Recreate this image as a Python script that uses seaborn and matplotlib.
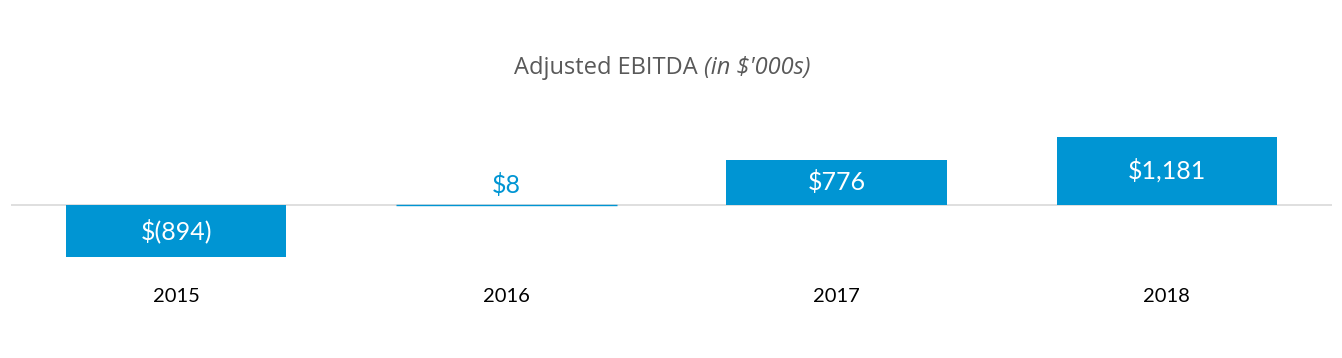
import matplotlib
matplotlib.use("Agg")
import matplotlib.pyplot as plt
import seaborn as sns
import pandas as pd

years = ["2015", "2016", "2017", "2018"]
ebitda = [-894, 8, 776, 1181]
value_labels = ["$(894)", "$8", "$776", "$1,181"]

BLUE = "#0095D3"

sns.set_theme(style="white")
plt.rcParams["font.family"] = ["Lato", "DejaVu Sans"]

df = pd.DataFrame({"year": years, "value": ebitda})

fig = plt.figure(figsize=(13.42, 3.58), dpi=100)
W, H = 1342, 358
ax_left, ax_right = 11, 1332
ax_top, ax_bot = 110, 270
ax = fig.add_axes([ax_left / W, (H - ax_bot) / H, (ax_right - ax_left) / W, (ax_bot - ax_top) / H])

sns.barplot(data=df, x="year", y="value", color=BLUE, saturation=1, width=0.667,
            linewidth=0, ax=ax)
# make the tiny 2016 bar visible as a thin line, as in the original
for p, v in zip(ax.patches, ebitda):
    if abs(v) < 50:
        p.set_edgecolor(BLUE)
        p.set_linewidth(1.0)

ax.set_xlim(-0.5, 3.5)
ax.set_ylim(-1121, 1638)
ax.axhline(0, color="#D9D9D9", lw=1.2, zorder=0)

for s in ax.spines.values():
    s.set_visible(False)
ax.set_yticks([])
ax.set_xlabel("")
ax.set_ylabel("")
ax.tick_params(axis="x", length=0, pad=13, labelsize=14.5, labelcolor="#000000")

for i, (v, lab) in enumerate(zip(ebitda, value_labels)):
    if abs(v) > 300:
        ax.text(i, v / 2, lab, ha="center", va="center", color="white",
                fontsize=18, parse_math=False)
    else:
        ax.text(i, v + 330, lab, ha="center", va="center", color=BLUE,
                fontsize=18, parse_math=False)

# Title: regular + italic part
tfont = ["Open Sans", "DejaVu Sans"]
t1 = fig.text(514 / W, 1 - 68 / H, "Adjusted EBITDA ", ha="left", va="center",
              fontsize=17, color="#595959", family=tfont, parse_math=False)
fig.canvas.draw()
bb = t1.get_window_extent()
fig.text(bb.x1 / W, 1 - 68 / H, "(in $'000s)", ha="left", va="center",
         fontsize=17, color="#595959", style="italic", family=tfont, parse_math=False)

fig.savefig("out.png", dpi=100, facecolor="white")
